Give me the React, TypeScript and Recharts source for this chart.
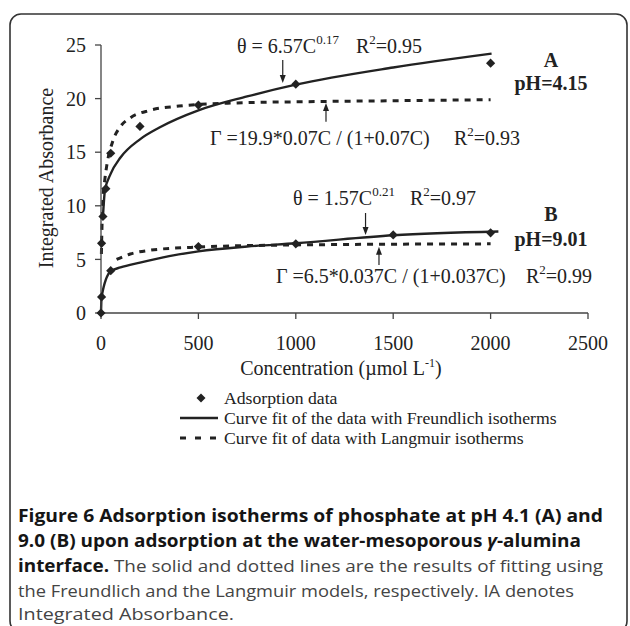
import { ComposedChart, Line, ReferenceLine, Scatter, XAxis, YAxis } from 'recharts';

const SERIF = '"Liberation Serif", "Times New Roman", serif';
const SANS = '"Open Sans", "Noto Sans", sans-serif';
const INK = '#222';

// adsorption data (concentration in µmol/L, integrated absorbance)
const concA = [3, 10, 25, 50, 200, 500, 1000, 2000];
const absA = [6.5, 9.0, 11.6, 14.9, 17.4, 19.4, 21.35, 23.3];
const concB = [0, 3, 50, 500, 1000, 1500, 2000];
const absB = [0, 1.5, 3.95, 6.2, 6.45, 7.28, 7.48];

// fitted curves
const freundAConc = [10, 20, 50, 100, 200, 300, 500, 750, 1000, 1500, 2005];
const freundAAbs = [9.0, 11.4, 13.0, 14.5, 16.2, 17.3, 18.9, 20.2, 21.3, 22.9, 24.2];
const langAConc = [2, 5, 10, 20, 30, 60, 100, 150, 250, 400, 700, 1000, 1500, 2000];
const langAAbs = [5.5, 8.0, 10.5, 12.5, 13.8, 16.0, 17.4, 18.2, 18.9, 19.3, 19.6, 19.7, 19.8, 19.9];
const freundBConc = [0, 3, 50, 100, 200, 350, 500, 750, 1000, 1500, 2040];
const freundBAbs = [0, 1.5, 3.9, 4.25, 4.7, 5.3, 5.75, 6.2, 6.5, 7.25, 7.6];
const langBConc = [80, 150, 250, 500, 1000, 2000];
const langBAbs = [5.0, 5.5, 5.85, 6.15, 6.35, 6.45];

// annotation arrows: concentration, start and tip (absorbance)
const arrowConc = [933, 1155, 1358, 1427];
const arrowFrom = [23.6, 17.85, 9.33, 4.48];
const arrowTo = [21.45, 19.6, 7.28, 6.18];

const xTicks = [0, 500, 1000, 1500, 2000, 2500];
const yTicks = [0, 5, 10, 15, 20, 25];

type Pt = { x: number; y: number };
const zip = (xs: number[], ys: number[]): Pt[] => xs.map((x, i) => ({ x, y: ys[i] }));

const pointsA = zip(concA, absA);
const pointsB = zip(concB, absB);
const freundA = zip(freundAConc, freundAAbs);
const langA = zip(langAConc, langAAbs);
const freundB = zip(freundBConc, freundBAbs);
const langB = zip(langBConc, langBAbs);

function Diamond(props: any) {
  const { cx, cy } = props;
  if (cx == null || cy == null) return null;
  const r = 4.6;
  return (
    <polygon
      points={`${cx},${cy - r} ${cx + r},${cy} ${cx},${cy + r} ${cx - r},${cy}`}
      fill={INK}
    />
  );
}

function Arrow(props: any) {
  const { x1, y1, x2, y2 } = props;
  const d = y2 > y1 ? 1 : -1;
  return (
    <g>
      <line x1={x1} y1={y1} x2={x2} y2={y2 - d * 6} stroke={INK} strokeWidth={1.2} />
      <polygon points={`${x2},${y2} ${x2 - 3},${y2 - d * 8} ${x2 + 3},${y2 - d * 8}`} fill={INK} />
    </g>
  );
}

const axisStroke = { stroke: '#444', strokeWidth: 1.3 };
const tickStyle = { fontFamily: SERIF, fontSize: 20, fill: INK };

function Sup({ children, size = 13, rise = 9 }: { children: string; size?: number; rise?: number }) {
  return (
    <tspan dy={-rise} fontSize={size}>
      {children}
    </tspan>
  );
}

function Annotations() {
  const t = { fontFamily: SERIF, fontSize: 20, fill: INK };
  const b = { ...t, fontWeight: 700, textAnchor: 'middle' as const };
  return (
    <g>
      <text x={237} y={53} {...t}>
        θ = 6.57C<Sup>0.17</Sup>
      </text>
      <text x={356} y={53} {...t}>
        R<Sup>2</Sup>
        <tspan dy={9}>=0.95</tspan>
      </text>
      <text x={210} y={145} {...t}>Γ =19.9*0.07C / (1+0.07C)</text>
      <text x={454} y={145} {...t}>
        R<Sup>2</Sup>
        <tspan dy={9}>=0.93</tspan>
      </text>
      <text x={293} y={205} {...t}>
        θ = 1.57C<Sup>0.21</Sup>
      </text>
      <text x={410} y={205} {...t}>
        R<Sup>2</Sup>
        <tspan dy={9}>=0.97</tspan>
      </text>
      <text x={276} y={283} {...t}>Γ =6.5*0.037C / (1+0.037C)</text>
      <text x={526} y={283} {...t}>
        R<Sup>2</Sup>
        <tspan dy={9}>=0.99</tspan>
      </text>
      <text x={551} y={67} {...b}>A</text>
      <text x={551} y={90} {...b}>pH=4.15</text>
      <text x={551} y={221} {...b}>B</text>
      <text x={551} y={246} {...b}>pH=9.01</text>

      {/* axis titles */}
      <text x={53} y={178} transform="rotate(-90 53 178)" {...t} textAnchor="middle">
        Integrated Absorbance
      </text>
      <text x={341} y={375} {...t} textAnchor="middle">
        Concentration (µmol L<Sup size={12} rise={8}>-1</Sup>
        <tspan dy={8}>)</tspan>
      </text>

      {/* legend */}
      <polygon points="201,393.5 205.5,398 201,402.5 196.5,398" fill={INK} />
      <text x={224} y={404} fontFamily={SERIF} fontSize={17.7} fill={INK}>
        Adsorption data
      </text>
      <line x1={180} y1={418} x2={218} y2={418} stroke={INK} strokeWidth={2.4} />
      <text x={224} y={424} fontFamily={SERIF} fontSize={17.7} fill={INK}>
        Curve fit of the data with Freundlich isotherms
      </text>
      <line x1={180} y1={438} x2={218} y2={438} stroke={INK} strokeWidth={3} strokeDasharray="6 9" />
      <text x={224} y={444} fontFamily={SERIF} fontSize={17.7} fill={INK}>
        Curve fit of data with Langmuir isotherms
      </text>
    </g>
  );
}

function Caption() {
  const base = { fontFamily: SANS, fontSize: 17, lengthAdjust: 'spacingAndGlyphs' as const };
  const bold = { fontWeight: 700, fill: '#151515' };
  const light = { fontWeight: 400, fill: '#444' };
  return (
    <g>
      <text x={18} y={522} textLength={585} {...base} {...bold}>
        Figure 6 Adsorption isotherms of phosphate at pH 4.1 (A) and
      </text>
      <text x={18} y={547} textLength={563} {...base} {...bold}>
        9.0 (B) upon adsorption at the water-mesoporous <tspan fontStyle="italic">γ</tspan>-alumina
      </text>
      <text x={18} y={572} textLength={585} {...base}>
        <tspan {...bold}>interface.</tspan>
        <tspan {...light}> The solid and dotted lines are the results of fitting using</tspan>
      </text>
      <text x={18} y={597} textLength={556} {...base} {...light}>
        the Freundlich and the Langmuir models, respectively. IA denotes
      </text>
      <text x={18} y={620} textLength={216} {...base} {...light}>
        Integrated Absorbance.
      </text>
    </g>
  );
}

export default function App() {
  return (
    <div style={{ position: 'absolute', left: 0, top: 0, width: 630, height: 626, background: '#fff', overflow: 'hidden' }}>
      <div style={{ position: 'absolute', left: 0, top: 0 }}>
        <ComposedChart width={630} height={380} margin={{ top: 45, right: 42, bottom: 0, left: 0 }}>
          <XAxis
            dataKey="x"
            type="number"
            domain={[0, 2500]}
            ticks={xTicks}
            height={67}
            tickSize={6}
            tickMargin={17}
            axisLine={axisStroke}
            tickLine={axisStroke}
            tick={tickStyle}
          />
          <YAxis
            type="number"
            domain={[0, 25]}
            ticks={yTicks}
            width={101}
            tickSize={6}
            tickMargin={9}
            axisLine={axisStroke}
            tickLine={axisStroke}
            tick={tickStyle}
          />
          <Line data={langA} dataKey="y" type="monotone" stroke={INK} strokeWidth={3} strokeDasharray="6 6" dot={false} isAnimationActive={false} />
          <Line data={langB} dataKey="y" type="monotone" stroke={INK} strokeWidth={3} strokeDasharray="6 6" dot={false} isAnimationActive={false} />
          <Line data={freundA} dataKey="y" type="monotone" stroke={INK} strokeWidth={2.4} dot={false} isAnimationActive={false} />
          <Line data={freundB} dataKey="y" type="monotone" stroke={INK} strokeWidth={2.4} dot={false} isAnimationActive={false} />
          <Scatter data={pointsA} dataKey="y" shape={Diamond} isAnimationActive={false} />
          <Scatter data={pointsB} dataKey="y" shape={Diamond} isAnimationActive={false} />
          {arrowConc.map((c, i) => (
            <ReferenceLine
              key={i}
              segment={[
                { x: c, y: arrowFrom[i] },
                { x: c, y: arrowTo[i] },
              ]}
              shape={Arrow}
            />
          ))}
        </ComposedChart>
      </div>
      <svg width={630} height={626} style={{ position: 'absolute', left: 0, top: 0, pointerEvents: 'none' }}>
        <rect x={10} y={14} width={617} height={618} rx={11} fill="none" stroke="#333" strokeWidth={1.6} />
        <Annotations />
        <Caption />
      </svg>
    </div>
  );
}
